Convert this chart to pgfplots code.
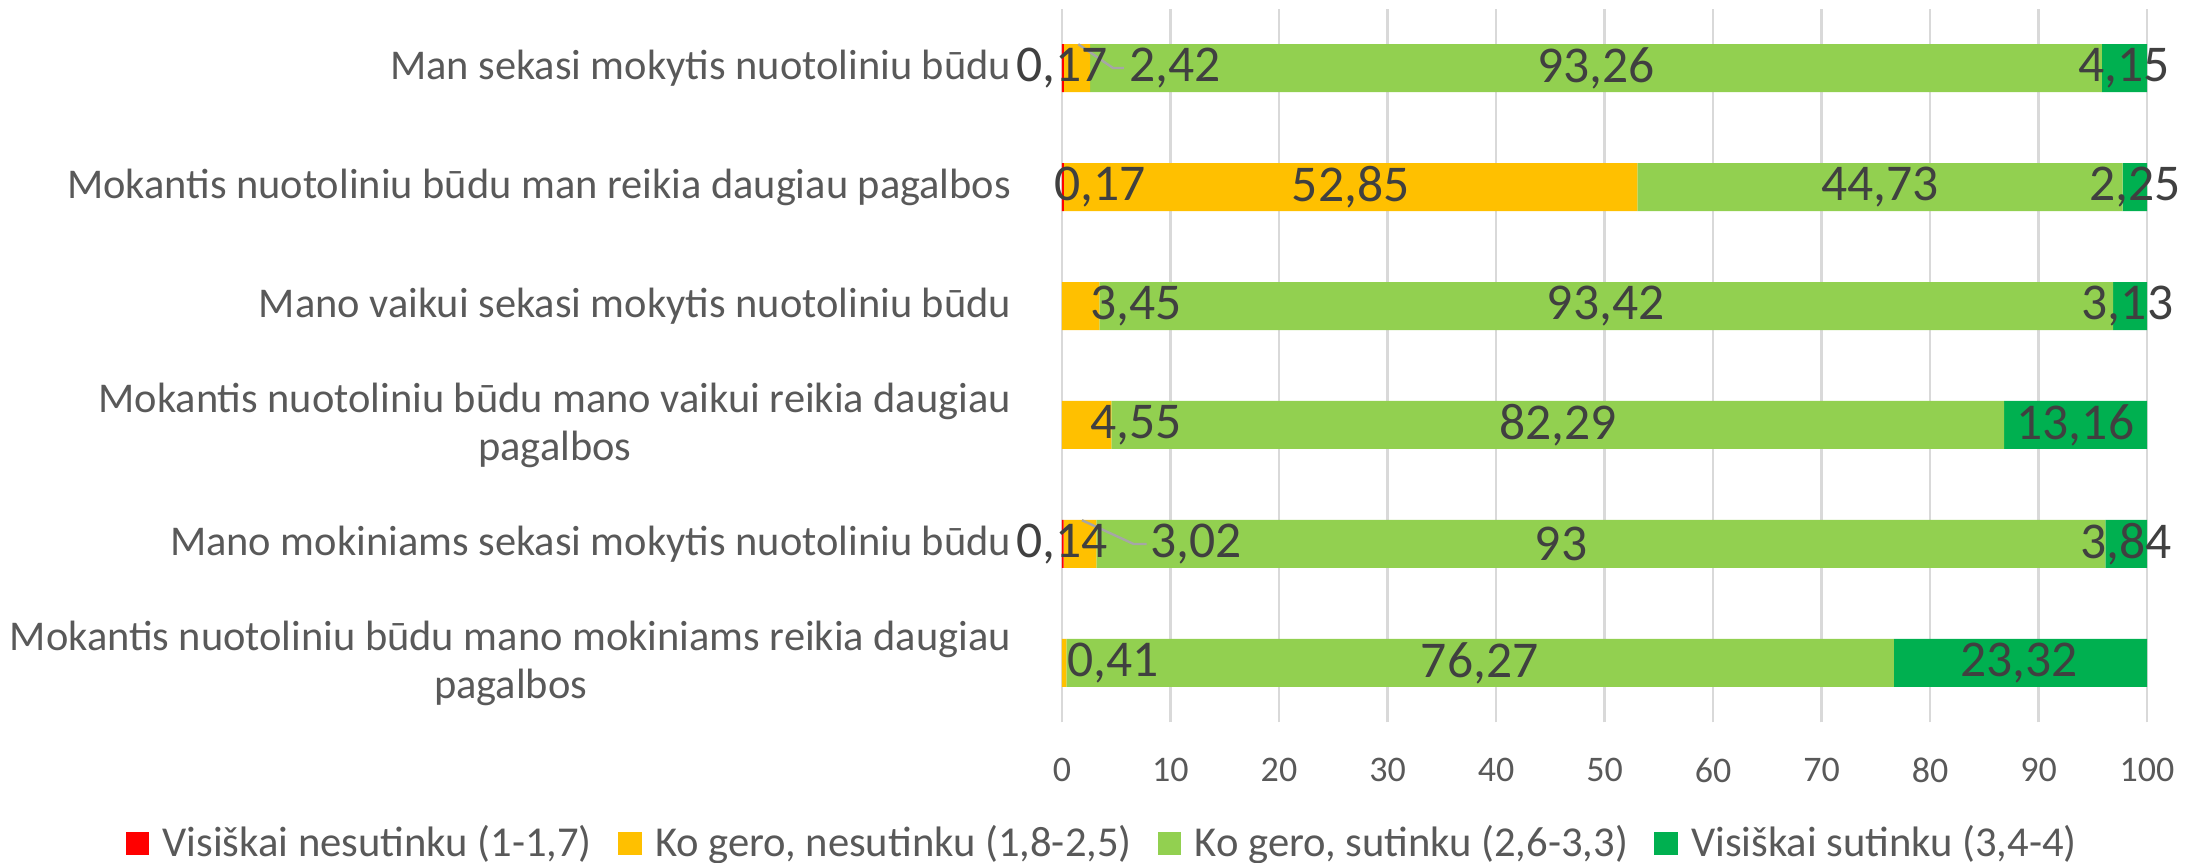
\documentclass[border=0pt]{standalone}
\usepackage{fontspec}
\setmainfont{Carlito}
\usepackage{pgfplots}
\pgfplotsset{compat=1.18}

\definecolor{cRed}{HTML}{FF0000}
\definecolor{cYel}{HTML}{FFC000}
\definecolor{cLgr}{HTML}{92D050}
\definecolor{cDgr}{HTML}{00B050}
\definecolor{cTxt}{HTML}{595959}
\definecolor{cLbl}{HTML}{404040}
\definecolor{cGrid}{HTML}{D9D9D9}
\definecolor{cLead}{HTML}{A6A6A6}

% y = 5 is the top category
\pgfplotstableread{
y  red   yel    lgr    dgr
5  0.17  2.42   93.26  4.15
4  0.17  52.85  44.73  2.25
3  0     3.45   93.42  3.13
2  0     4.55   82.29  13.16
1  0.14  3.02   93     3.84
0  0     0.41   76.27  23.32
}\data

\begin{document}
\begin{tikzpicture}
\pgfplotsset{common/.style={
  at={(0,0)}, anchor=south west,
  scale only axis, width=271.25pt, height=178.5pt,
  xmin=0, xmax=100, ymin=-0.5, ymax=5.5}}
\begin{axis}[common,
  xbar stacked, bar width=12pt,
  xtick={0,10,...,100}, ytick={0,...,5},
  yticklabels={{Mokantis nuotoliniu būdu mano mokiniams reikia daugiau\\pagalbos},
    {Mano mokiniams sekasi mokytis nuotoliniu būdu},
    {Mokantis nuotoliniu būdu mano vaikui reikia daugiau\\pagalbos},
    {Mano vaikui sekasi mokytis nuotoliniu būdu},
    {Mokantis nuotoliniu būdu man reikia daugiau pagalbos},
    {Man sekasi mokytis nuotoliniu būdu}},
  axis line style={draw=none}, tick style={draw=none},
  xmajorgrids, ymajorgrids=false, grid style={color=cGrid, line width=0.6pt},
  /pgf/number format/assume math mode=true,
  xticklabel style={font=\fontsize{9}{10}\selectfont, text=cTxt, anchor=center, yshift=-11.9pt},
  yticklabel style={font=\fontsize{10.6}{12}\selectfont, text=cTxt, align=center,
    anchor=east, inner sep=0pt, xshift=-12.5pt},
  legend style={at={(0.04,-0.1695)}, anchor=center, legend columns=4, draw=none,
    font=\fontsize{10.65}{12}\selectfont, text=cTxt,
    /tikz/every even column/.append style={column sep=4.6pt}},
  legend image code/.code={\fill[#1] (0pt,-2.9pt) rectangle (5.8pt,2.9pt);
    \path (7.2pt,0pt);},
]
\addplot[fill=cRed, draw=none] table[x=red, y=y] {\data};
\addlegendentry{Visiškai nesutinku (1-1,7)}
\addplot[fill=cYel, draw=none] table[x=yel, y=y] {\data};
\addlegendentry{Ko gero, nesutinku (1,8-2,5)}
\addplot[fill=cLgr, draw=none] table[x=lgr, y=y] {\data};
\addlegendentry{Ko gero, sutinku (2,6-3,3)}
\addplot[fill=cDgr, draw=none] table[x=dgr, y=y] {\data};
\addlegendentry{Visiškai sutinku (3,4-4)}
\end{axis}

% data labels and leader lines
\begin{axis}[common, hide axis, clip=false]
\addplot[cLead, line width=0.6pt] coordinates {(1.5,5.2) (4.7,5) (5.7,5)};
\addplot[cLead, line width=0.6pt] coordinates {(1.84,1.2) (6.6,1) (7.8,1)};
\addplot[draw=none, nodes near coords, point meta=explicit symbolic,
  nodes near coords style={anchor=center, inner sep=0pt,
    font=\fontsize{12.9}{14}\selectfont, text=cLbl}]
  table[x=x, y=y, meta=lab] {
x     y  lab
0     5  0,17
10.4  5  2,42
49.2  5  93,26
97.9  5  4,15
3.5   4  0,17
26.6  4  52,85
75.4  4  44,73
98.9  4  2,25
6.8   3  3,45
50.1  3  93,42
98.2  3  3,13
6.8   2  4,55
45.7  2  82,29
93.4  2  13,16
0     1  0,14
12.35 1  3,02
46    1  93
98.1  1  3,84
4.7   0  0,41
38.5  0  76,27
88.2  0  23,32
};
\end{axis}
\pgfresetboundingbox
\path[use as bounding box] (-265.5pt,-35.125pt) rectangle (284.75pt,180.625pt);
\end{tikzpicture}
\end{document}
